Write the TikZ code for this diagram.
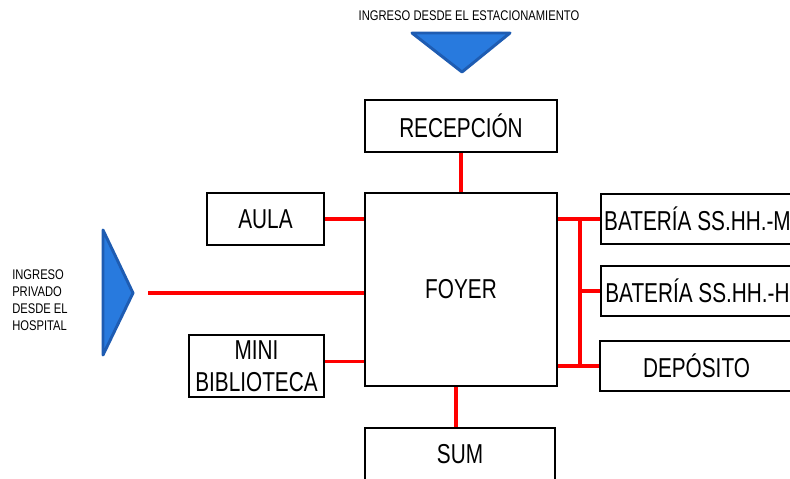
\documentclass[tikz,border=0pt]{standalone}
\usepackage{fontspec}
\setmainfont[FakeStretch=0.76]{Liberation Sans}
\newfontfamily\narrowfont[FakeStretch=0.8]{Liberation Sans}
\usetikzlibrary{positioning,calc}
\definecolor{entryblue}{RGB}{40,122,222}
\definecolor{entryedge}{RGB}{30,92,178}

\begin{document}
\begin{tikzpicture}[
    x=0.75pt, y=-0.75pt,
    box/.style={rectangle, draw, line width=1.5pt, inner sep=0pt, align=center,
                font=\fontsize{20.5}{24}\selectfont},
    link/.style={draw=red, line width=2.4pt},
    entry/.style={fill=entryblue, draw=entryedge, line width=2.2pt, line join=round},
    note/.style={font=\narrowfont\fontsize{10.5}{12.8}\selectfont, align=left, inner sep=0pt}
  ]
  \useasboundingbox (0,0) rectangle (790,479);

  % Entrances
  \node[note] (parking_txt) at (469,16) {INGRESO DESDE EL ESTACIONAMIENTO};
  \draw[entry] (412,33) -- (510,33) -- (462,72) -- cycle;
  \draw[entry] (103,230) -- (133,293) -- (103,355) -- cycle;
  \coordinate (hosp) at (148,293);
  \node[note, anchor=west] (hosp_txt) at (12,300) {INGRESO\\PRIVADO\\DESDE EL\\HOSPITAL};

  % Central spaces
  \node[box, minimum width=144pt, minimum height=39pt] (recep) at (461,126) {RECEPCIÓN};
  \node[box, minimum width=144pt, minimum height=144.75pt] (foyer) at (461,289.5) {FOYER};
  \node[box, minimum width=142.5pt, minimum height=39pt] (sum) at (460,454) {SUM};

  % Left side
  \node[box, minimum width=87.75pt, minimum height=39pt] (aula) at (265.5,219) {AULA};
  \node[box, minimum width=101.25pt, minimum height=46.5pt] (biblio) at (256.5,366) {MINI\\BIBLIOTECA};

  % Right side
  \node[box, minimum width=144.75pt, minimum height=37.5pt] (bat_m) at (697.5,219) {BATERÍA SS.HH.-M};
  \node[box, minimum width=144.75pt, minimum height=37.5pt] (bat_h) at (697.5,291) {BATERÍA SS.HH.-H};
  \node[box, minimum width=144.75pt, minimum height=37.5pt] (depo) at (696.5,366) {DEPÓSITO};
  \coordinate (bus) at (580,0);

  % Connections
  \draw[link] (recep) -- (foyer);
  \draw[link] (sum.north -| 456,0) -- (foyer.south -| 456,0);
  \draw[link] (aula.east) -- (aula.east -| foyer.west);
  \draw[link] ([yshift=3.5pt]biblio.east) -- ([yshift=3.5pt]biblio.east -| foyer.west);
  \draw[link] (hosp) -- (hosp -| foyer.west);
  \draw[link] (foyer.east |- bat_m) -- (bat_m.west);
  \draw[link] (foyer.east |- depo) -- (depo.west);
  \draw[link] (bus |- bat_m) -- (bus |- depo);
  \draw[link] (bus |- bat_h) -- (bat_h.west);

\end{tikzpicture}
\end{document}
